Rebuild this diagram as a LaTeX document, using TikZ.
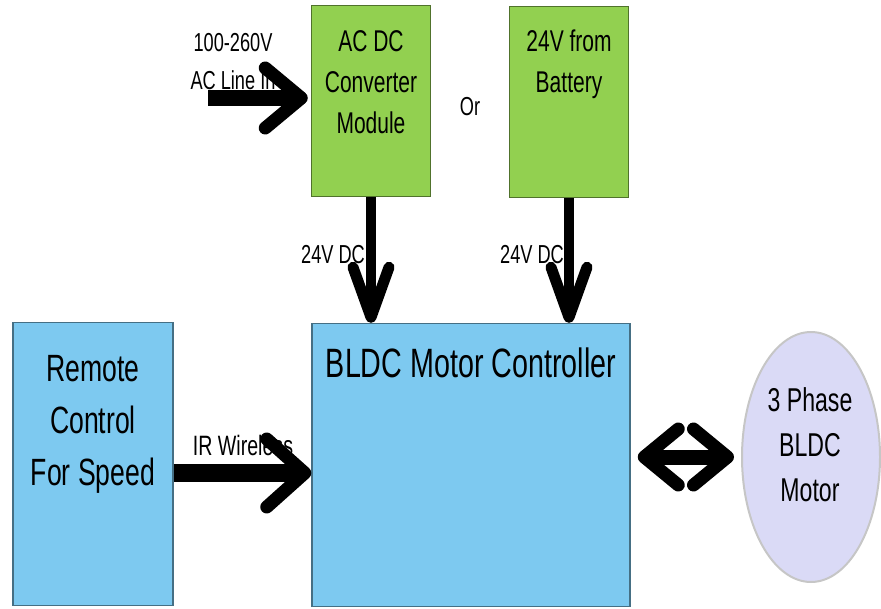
\documentclass[tikz,border=0pt]{standalone}
\usepackage{fontspec}
\setmainfont[FakeStretch=0.7]{Liberation Sans}
\usetikzlibrary{arrows.meta, shapes.geometric}
\definecolor{boxgreen}{RGB}{146,208,80}
\definecolor{boxblue}{RGB}{125,201,240}
\definecolor{motorlav}{RGB}{218,218,246}

\begin{document}
\begin{tikzpicture}[x=1pt, y=-1pt,
  supply/.style={rectangle, draw=boxgreen!55!black, fill=boxgreen, line width=1.5pt,
                 minimum width=119pt, minimum height=191pt, inner sep=0pt},
  block/.style={rectangle, draw=boxblue!55!black, fill=boxblue, line width=1.5pt,
                inner sep=0pt, minimum height=283pt},
  boxtxt/.style={anchor=north, align=center, inner sep=0pt, text=black},
  lbl/.style={anchor=north, align=center, inner sep=0pt, text=black,
              font=\fontsize{26}{38}\selectfont},
  fat/.style={line width=16pt, -{Straight Barb[round, length=36pt, width=60pt, line width=13pt]}},
  feed/.style={line width=10pt, -{Straight Barb[round, length=50pt, width=36pt, line width=11pt]}},
  link/.style={line width=15pt,
               {Straight Barb[round, length=34pt, width=56pt, line width=13pt]}-{Straight Barb[round, length=34pt, width=56pt, line width=13pt]}},
]
  \useasboundingbox (0,0) rectangle (881,608);

  % Supplies
  \node[supply] (acdc) at (371,101) {};
  \node[supply] (batt) at (569,102) {};
  \node[boxtxt, font=\fontsize{30}{41}\selectfont] (acdctxt) at (371,30) {AC DC\\Converter\\Module};
  \node[boxtxt, font=\fontsize{30}{41}\selectfont] (batttxt) at (569,30) {24V from\\Battery};

  % Controller and remote
  \node[block, minimum width=318pt] (ctrl) at (471,465) {};
  \node[block, minimum width=160pt] (remote) at (93,464) {};
  \node[boxtxt, font=\fontsize{41}{50}\selectfont] (ctrltxt) at (471,348) {BLDC Motor Controller};
  \node[boxtxt, font=\fontsize{38}{52}\selectfont] (remotetxt) at (93,355) {Remote\\Control\\For Speed};

  % Motor
  \node[ellipse, draw=gray!45, line width=2pt, fill=motorlav, minimum width=138pt,
        minimum height=250pt, inner sep=0pt] (motor) at (811,457) {};
  \node[boxtxt, font=\fontsize{33}{45}\selectfont] (motortxt) at (810,387) {3 Phase\\BLDC\\Motor};

  % Labels
  \node[lbl] (acin) at (233,33) {100-260V\\AC Line In};
  \node[lbl] (orlbl) at (470,97) {Or};
  \node[lbl] (dclbl1) at (333,245) {24V DC};
  \node[lbl] (dclbl2) at (532,245) {24V DC};
  \node[lbl, font=\fontsize{28}{38}\selectfont] (irlbl) at (243,435) {IR Wireless};

  % Connections
  \coordinate (acstart) at (208,98);
  \draw[fat] (acstart) -- ([xshift=-3pt]acstart -| acdc.west);
  \draw[feed] (acdc.south) -- (acdc.south |- ctrl.north);
  \draw[feed] (batt.south) -- (batt.south |- ctrl.north);
  \draw[fat, line width=18pt, -{Straight Barb[round, length=38pt, width=68pt, line width=13pt]}]
    ([yshift=-9pt]remote.east) -- ([yshift=-9pt]remote.east -| ctrl.west);
  \draw[link] ([xshift=7pt]ctrl.east |- motor.west) -- ([xshift=-7pt]motor.west);
\end{tikzpicture}
\end{document}
